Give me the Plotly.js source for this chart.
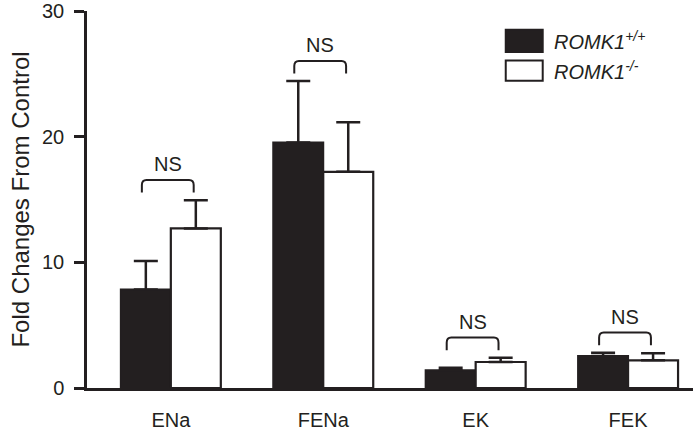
<!DOCTYPE html>
<html>
<head>
<meta charset="utf-8">
<script src="https://cdn.plot.ly/plotly-3.0.1.min.js"></script>
<style>
  body { margin: 0; background: #fff; }
  #myDiv { width: 693px; height: 436px; }
</style>
</head>
<body>
<div id="myDiv"></div>
<script>
// values
var categories = ['ENa', 'FENa', 'EK', 'FEK'];
var wildMean = [7.83, 19.53, 1.41, 2.54];
var wildErr = [2.27, 4.9, 0.2, 0.27];
var koMean = [12.7, 17.2, 2.07, 2.2];
var koErr = [2.25, 3.95, 0.34, 0.57];
var nsLabels = ['NS', 'NS', 'NS', 'NS'];
var seriesNames = ['ROMK1<sup>+/+</sup>', 'ROMK1<sup>-/-</sup>'];

var ink = '#231f20';
var font = 'Liberation Sans, Arial, sans-serif';
var xpos = categories.map(function (c, i) { return i; });

function drawChart() {
    var wild = {
        x: xpos,
        y: wildMean,
        type: 'bar',
        name: seriesNames[0],
        marker: {color: ink, line: {color: ink, width: 2}},
        error_y: {type: 'data', symmetric: false, array: wildErr, arrayminus: wildErr.map(function () { return 0; }),
            color: ink, thickness: 2.5, width: 12}
    };
    var ko = {
        x: xpos,
        y: koMean,
        type: 'bar',
        name: seriesNames[1],
        marker: {color: '#ffffff', line: {color: ink, width: 2.2}},
        error_y: {type: 'data', symmetric: false, array: koErr, arrayminus: koErr.map(function () { return 0; }),
            color: ink, thickness: 2.5, width: 12}
    };

    // NS brackets above each pair
    var shapes = [];
    var annotations = [];
    for (var i = 0; i < categories.length; i++) {
        var yTop = Math.max(wildMean[i] + wildErr[i], koMean[i] + koErr[i]) + 1.6;
        var yEnd = yTop - 1.0;
        var x0 = i - 0.19, x1 = i + 0.15;
        shapes.push({
            type: 'path', xref: 'x', yref: 'y',
            path: 'M' + x0 + ',' + yEnd + ' L' + x0 + ',' + (yTop - 0.4) +
                  ' Q' + x0 + ',' + yTop + ' ' + (x0 + 0.03) + ',' + yTop +
                  ' L' + (x1 - 0.03) + ',' + yTop +
                  ' Q' + x1 + ',' + yTop + ' ' + x1 + ',' + (yTop - 0.4) +
                  ' L' + x1 + ',' + yEnd,
            line: {color: ink, width: 2}
        });
        annotations.push({
            x: (x0 + x1) / 2, y: yTop, xref: 'x', yref: 'y',
            text: nsLabels[i], showarrow: false, yanchor: 'bottom', yshift: 3,
            font: {family: font, size: 20, color: ink}
        });
    }

    // legend drawn by hand (large swatches)
    var swatches = [
        {fill: ink, y0: 0.891, y1: 0.950},
        {fill: '#ffffff', y0: 0.815, y1: 0.869}
    ];
    swatches.forEach(function (s, k) {
        shapes.push({
            type: 'rect', xref: 'paper', yref: 'paper',
            x0: 0.691, x1: 0.752, y0: s.y0, y1: s.y1,
            fillcolor: s.fill, line: {color: ink, width: 2}
        });
        annotations.push({
            x: 0.768, y: (s.y0 + s.y1) / 2, xref: 'paper', yref: 'paper',
            xanchor: 'left', yanchor: 'middle', showarrow: false,
            text: '<i>' + seriesNames[k] + '</i>',
            font: {family: font, size: 20, color: ink}
        });
    });

    var layout = {
        width: 693,
        height: 436,
        margin: {l: 87, r: 0, t: 11, b: 48},
        paper_bgcolor: '#ffffff',
        plot_bgcolor: '#ffffff',
        showlegend: false,
        barmode: 'group',
        bargap: 0.344,
        bargroupgap: 0,
        font: {family: font, color: ink},
        xaxis: {
            range: [-0.55, 3.426],
            tickvals: xpos,
            ticktext: categories,
            showline: true, linecolor: ink, linewidth: 2.5,
            ticks: '', showgrid: false, zeroline: false,
            tickfont: {family: font, size: 20, color: ink},
            ticklabelstandoff: 12
        },
        yaxis: {
            range: [0, 30],
            tickvals: [0, 10, 20, 30],
            showline: true, linecolor: ink, linewidth: 2.5,
            ticks: 'outside', ticklen: 10, tickwidth: 2.5, tickcolor: ink,
            showgrid: false, zeroline: false,
            tickfont: {family: font, size: 20, color: ink},
            ticklabelstandoff: 6,
            ticklabeloverflow: 'allow',
            title: {text: 'Fold Changes From Control', font: {family: font, size: 24, color: ink}, standoff: 6}
        },
        shapes: shapes,
        annotations: annotations
    };

    Plotly.newPlot('myDiv', [wild, ko], layout, {displayModeBar: false});
}

drawChart();
</script>
</body>
</html>
